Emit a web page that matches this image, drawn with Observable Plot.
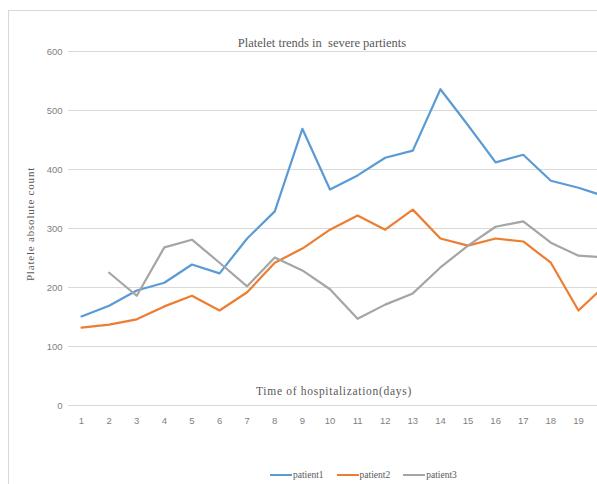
<!DOCTYPE html>
<html>
<head>
<meta charset="utf-8">
<script src="https://cdn.jsdelivr.net/npm/d3@7"></script>
<script src="https://cdn.jsdelivr.net/npm/@observablehq/plot@0.6"></script>
<style>
  html, body { margin: 0; padding: 0; background: #fff; }
  #wrap { position: relative; width: 597px; height: 484px; overflow: hidden; }
  #frame { position: absolute; left: 8px; top: 10px; width: 620px; height: 500px;
           border-left: 1.5px solid #d9d9d9; border-top: 1.5px solid #d9d9d9; }
  .txt { position: absolute; font-family: "Liberation Serif", "DejaVu Serif", serif; color: #595959; white-space: nowrap; }
  #title { left: 0; width: 644px; top: 36px; text-align: center; font-size: 12.5px; }
  #xlab { left: 0; width: 668px; top: 385px; text-align: center; font-size: 11.5px; letter-spacing: 0.7px; }
  #ylab { left: 30px; top: 224px; font-size: 11px; letter-spacing: 0.8px; transform: translate(-50%, -50%) rotate(-90deg); }
  #legend { left: 270px; top: 470px; font-size: 9.5px; display: flex; gap: 13px; }
  .item { display: flex; align-items: center; }
  .sw { display: inline-block; width: 22px; height: 2px; margin-right: 1px; }
  #chart { position: absolute; left: 0; top: 0; }
</style>
</head>
<body>
<div id="wrap">
  <div id="frame"></div>
  <div id="chart"></div>
  <div id="title" class="txt">Platelet trends in&nbsp; severe partients</div>
  <div id="xlab" class="txt">Time of hospitalization(days)</div>
  <div id="ylab" class="txt">Platele absolute count</div>
  <div id="legend" class="txt"></div>
</div>
<script>
const days = [1,2,3,4,5,6,7,8,9,10,11,12,13,14,15,16,17,18,19,20];
const patient1 = [151,169,195,208,239,224,283,329,469,366,390,420,432,536,475,412,425,381,369,354];
const patient2 = [132,137,146,168,186,161,192,242,266,298,322,298,332,283,271,283,278,242,161,205];
const patient3 = [null,225,186,268,281,242,202,251,229,197,147,171,190,234,271,303,312,276,254,251];
const seriesNames = ["patient1", "patient2", "patient3"];
const seriesColors = ["#5B9BD5", "#ED7D31", "#A5A5A5"];
const xTicks = [1,2,3,4,5,6,7,8,9,10,11,12,13,14,15,16,17,18,19];
const yTicks = [0,100,200,300,400,500,600];

const allSeries = [patient1, patient2, patient3];
const rows = [];
allSeries.forEach((vals, i) => {
  vals.forEach((v, j) => {
    if (v != null) rows.push({series: seriesNames[i], day: days[j], value: v});
  });
});

const chart = Plot.plot({
  width: 597,
  height: 484,
  marginLeft: 68,
  marginRight: 0,
  marginTop: 51,
  marginBottom: 79,
  style: {background: "transparent", fontFamily: "Liberation Sans, sans-serif", fontSize: "9.5px", color: "#7f7f7f"},
  x: {domain: [0.529, 19.69], ticks: xTicks, tickSize: 0, tickPadding: 10, label: null},
  y: {domain: [0, 600], ticks: yTicks, tickSize: 0, tickPadding: 10, label: null},
  color: {domain: seriesNames, range: seriesColors},
  marks: [
    Plot.gridY(yTicks, {stroke: "#d9d9d9", strokeOpacity: 1, strokeWidth: 1.2}),
    Plot.axisY(yTicks, {tickSize: 0, tickPadding: 6, fill: "#7f7f7f", fontSize: 9.5, label: null}),
    Plot.axisX(xTicks, {tickSize: 0, tickPadding: 12, fill: "#7f7f7f", fontSize: 9.5, label: null}),
    Plot.lineY(rows, {x: "day", y: "value", z: "series", stroke: "series", strokeWidth: 2.2, clip: true, strokeLinejoin: "round"})
  ]
});
document.getElementById("chart").appendChild(chart);

const legend = document.getElementById("legend");
seriesNames.forEach((n, i) => {
  const it = document.createElement("span");
  it.className = "item";
  const sw = document.createElement("span");
  sw.className = "sw";
  sw.style.background = seriesColors[i];
  it.appendChild(sw);
  it.appendChild(document.createTextNode(n));
  legend.appendChild(it);
});
</script>
</body>
</html>
